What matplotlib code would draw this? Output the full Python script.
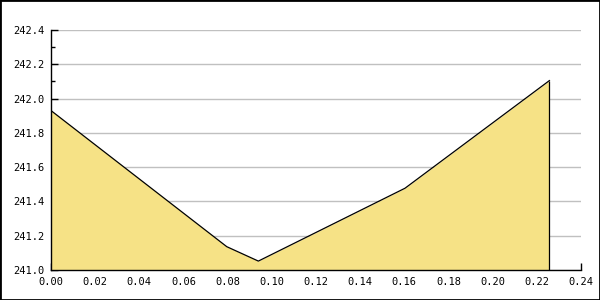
import matplotlib
matplotlib.use("Agg")
import matplotlib.pyplot as plt
from matplotlib.ticker import MultipleLocator, FormatStrFormatter
from matplotlib.patches import Rectangle

x_vals = [0.0, 0.0796, 0.0939, 0.1603, 0.2257]
y_vals = [241.93, 241.136, 241.052, 241.477, 242.105]

fig = plt.figure(figsize=(6, 3), dpi=100)
ax = fig.add_axes([51/600, 30/300, 530/600, 240/300])
ax.set_axisbelow(True)

ax.fill_between(x_vals, y_vals, 241.0, color="#F6E286", lw=0, zorder=2)
ax.plot(x_vals, y_vals, color="black", lw=0.9, zorder=3)
ax.vlines(x_vals[-1], 241.0, y_vals[-1], color="black", lw=0.9, zorder=3)

ax.set_xlim(0, 0.24)
ax.set_ylim(241.0, 242.4)
ax.xaxis.set_major_locator(MultipleLocator(0.02))
ax.yaxis.set_major_locator(MultipleLocator(0.2))
ax.yaxis.set_minor_locator(MultipleLocator(0.1))
ax.xaxis.set_major_formatter(FormatStrFormatter("%.2f"))
ax.yaxis.set_major_formatter(FormatStrFormatter("%.1f"))
ax.grid(axis="y", which="major", color="#c0c0c0", lw=1, zorder=0)
for s in ["top", "right"]:
    ax.spines[s].set_visible(False)
for s in ["left", "bottom"]:
    ax.spines[s].set_linewidth(1)
    ax.spines[s].set_zorder(4)
ax.tick_params(which="major", direction="in", length=5, width=1,
               labelsize=7.5, pad=5)
ax.tick_params(which="minor", direction="in", length=3, width=1)
for lab in ax.get_xticklabels() + ax.get_yticklabels():
    lab.set_fontfamily("DejaVu Sans Mono")

fig.patches.append(Rectangle((0, 0), 1, 1, transform=fig.transFigure,
                             fill=False, edgecolor="black", lw=2))
fig.savefig("out.png", dpi=100)
